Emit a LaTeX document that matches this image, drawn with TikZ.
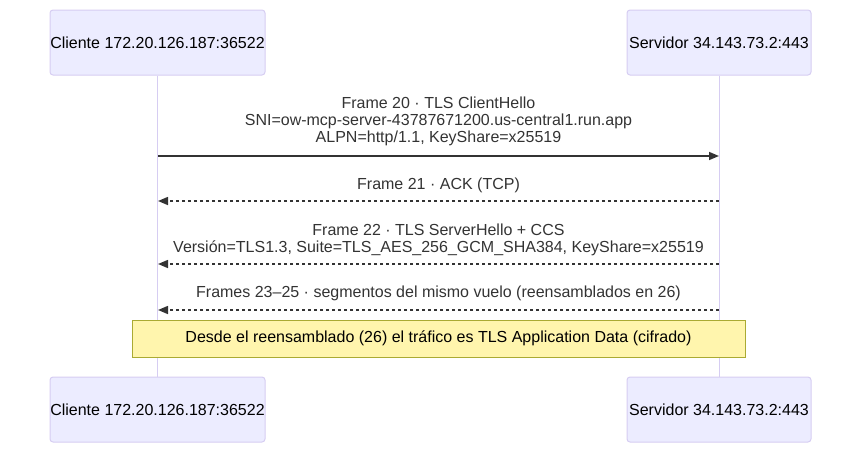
\documentclass[tikz,border=0pt]{standalone}
\usepackage{fontspec}
\setmainfont{Liberation Sans}
\usetikzlibrary{arrows.meta}

\definecolor{actfill}{HTML}{ECECFF}
\definecolor{actline}{HTML}{D6CDF2}
\definecolor{txt}{HTML}{333333}
\definecolor{notefill}{HTML}{FFF5AD}
\definecolor{noteline}{HTML}{AAAA33}

\tikzstyle{actor} = [rectangle, rounded corners=3pt, fill=actfill, draw=actline, line width=1pt, text=black, minimum height=65pt, inner sep=0pt, font=\fontsize{16}{18}\selectfont]
\tikzstyle{msg} = [text=txt, align=center, inner sep=0pt, font=\fontsize{16}{17}\selectfont]
\tikzstyle{call} = [draw=txt, line width=1.5pt, -{Triangle[length=10pt,width=8pt]}]
\tikzstyle{reply} = [call, dash pattern=on 3pt off 3pt]
\tikzstyle{note} = [rectangle, fill=notefill, draw=noteline, line width=1pt, text=black, minimum width=613pt, minimum height=37pt, inner sep=0pt, font=\fontsize{16}{18}\selectfont]

\begin{document}
\begin{tikzpicture}[x=1pt, y=-1pt]
    \useasboundingbox (0,0) rectangle (862,453);
    % Actors
    \node[actor, minimum width=215pt] (cli) at (157.5, 42.5) {Cliente 172.20.126.187:36522};
    \node[actor, minimum width=184pt] (srv) at (719, 42.5) {Servidor 34.143.73.2:443};
    \node[actor, minimum width=215pt] (cliB) at (157.5, 409.5) {Cliente 172.20.126.187:36522};
    \node[actor, minimum width=184pt] (srvB) at (719, 409.5) {Servidor 34.143.73.2:443};
    % Lifelines
    \draw[actline, line width=1pt] (cli.south) -- (cliB.north);
    \draw[actline, line width=1pt] (srv.south) -- (srvB.north);
    % Points on the lifelines
    \foreach \n/\y in {1/156, 2/201, 3/264, 4/310} {
      \coordinate (c\n) at (158, \y);
      \coordinate (s\n) at (719, \y);
    }
    % Messages
    \node[msg] (m1) at (438.5, 121) {Frame 20 · TLS ClientHello\\SNI=ow-mcp-server-43787671200.us-central1.run.app\\ALPN=http/1.1, KeyShare=x25519};
    \draw[call] (c1) -- (s1);
    \node[msg] (m2) at (438.5, 185) {Frame 21 · ACK (TCP)};
    \draw[reply] (s2) -- (c2);
    \node[msg] (m3) at (438.5, 239.5) {Frame 22 · TLS ServerHello + CCS\\Versión=TLS1.3, Suite=TLS\_AES\_256\_GCM\_SHA384, KeyShare=x25519};
    \draw[reply] (s3) -- (c3);
    \node[msg] (m4) at (438.5, 293.5) {Frames 23–25 · segmentos del mismo vuelo (reensamblados en 26)};
    \draw[reply] (s4) -- (c4);
    % Note
    \node[note] (n1) at (438.5, 338.5) {Desde el reensamblado (26) el tráfico es TLS Application Data (cifrado)};
\end{tikzpicture}
\end{document}
